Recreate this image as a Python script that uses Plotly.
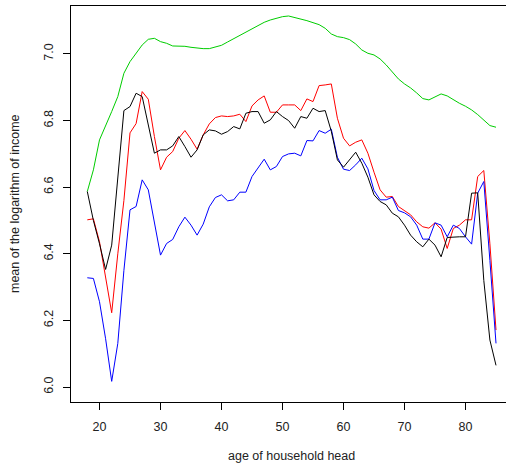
import plotly.graph_objects as go

# Age of household head, 18..85
ages = list(range(18, 86))

# Mean log income by age, four groups
green_vals = [6.587, 6.652, 6.742, 6.782, 6.827, 6.872, 6.942, 6.977, 7.002, 7.027,
              7.044, 7.047, 7.037, 7.032, 7.024, 7.024, 7.023, 7.020, 7.017, 7.016,
              7.016, 7.020, 7.026, 7.036, 7.046, 7.054, 7.066, 7.076, 7.086, 7.095,
              7.102, 7.108, 7.112, 7.114, 7.110, 7.106, 7.100, 7.094, 7.088, 7.077,
              7.060, 7.052, 7.049, 7.043, 7.030, 7.012, 7.002, 6.997, 6.985, 6.967,
              6.945, 6.925, 6.910, 6.898, 6.883, 6.866, 6.862, 6.872, 6.880, 6.874,
              6.862, 6.852, 6.843, 6.832, 6.818, 6.800, 6.785, 6.780]

black_vals = [6.587, 6.500, 6.430, 6.353, 6.426, 6.627, 6.830, 6.842, 6.882, 6.872,
              6.787, 6.702, 6.712, 6.712, 6.724, 6.752, 6.722, 6.690, 6.712, 6.757,
              6.772, 6.769, 6.759, 6.767, 6.782, 6.775, 6.822, 6.827, 6.827, 6.792,
              6.802, 6.827, 6.812, 6.800, 6.777, 6.812, 6.807, 6.837, 6.827, 6.830,
              6.768, 6.682, 6.660, 6.682, 6.705, 6.672, 6.630, 6.577, 6.557, 6.547,
              6.522, 6.511, 6.486, 6.456, 6.436, 6.421, 6.444, 6.426, 6.391, 6.449,
              6.451, 6.451, 6.451, 6.582, 6.583, 6.320, 6.141, 6.065]

red_vals = [6.502, 6.505, 6.436, 6.331, 6.223, 6.400, 6.560, 6.763, 6.791, 6.887,
            6.864, 6.752, 6.652, 6.690, 6.707, 6.747, 6.770, 6.744, 6.714, 6.757,
            6.790, 6.809, 6.814, 6.812, 6.814, 6.819, 6.797, 6.844, 6.862, 6.874,
            6.825, 6.825, 6.847, 6.847, 6.847, 6.830, 6.865, 6.857, 6.905, 6.907,
            6.910, 6.807, 6.747, 6.724, 6.735, 6.742, 6.702, 6.645, 6.592, 6.570,
            6.572, 6.542, 6.530, 6.517, 6.496, 6.481, 6.477, 6.493, 6.474, 6.416,
            6.476, 6.486, 6.502, 6.502, 6.632, 6.650, 6.430, 6.171]

blue_vals = [6.328, 6.326, 6.256, 6.145, 6.017, 6.131, 6.350, 6.532, 6.542, 6.622,
             6.592, 6.496, 6.396, 6.431, 6.443, 6.481, 6.510, 6.486, 6.456, 6.489,
             6.541, 6.569, 6.577, 6.559, 6.562, 6.585, 6.585, 6.632, 6.660, 6.684,
             6.652, 6.662, 6.692, 6.700, 6.702, 6.694, 6.740, 6.739, 6.770, 6.762,
             6.774, 6.690, 6.654, 6.650, 6.667, 6.687, 6.655, 6.590, 6.562, 6.562,
             6.570, 6.530, 6.523, 6.511, 6.486, 6.444, 6.444, 6.493, 6.486, 6.451,
             6.486, 6.476, 6.451, 6.429, 6.582, 6.617, 6.380, 6.131]

x_ticks = [20, 30, 40, 50, 60, 70, 80]
y_ticks = [6.0, 6.2, 6.4, 6.6, 6.8, 7.0]
y_tick_text = ["6.0", "6.2", "6.4", "6.6", "6.8", "7.0"]

FONT = "Liberation Sans, Arial, sans-serif"
TEXT_COL = "#222222"

fig = go.Figure()
for vals, col in [(green_vals, "#00CD00"), (red_vals, "#FF0000"),
                  (blue_vals, "#0000FF"), (black_vals, "#000000")]:
    fig.add_trace(go.Scatter(x=ages, y=vals, mode="lines",
                             line=dict(color=col, width=1), showlegend=False,
                             hoverinfo="skip"))

fig.update_layout(
    width=506, height=468,
    margin=dict(l=71, r=0, t=6, b=66),
    paper_bgcolor="white", plot_bgcolor="white",
    font=dict(family=FONT, size=12.5, color="#000000"),
    xaxis=dict(range=[15.328, 86.64], tickvals=x_ticks, ticks="outside",
               ticklen=7, tickwidth=1, tickcolor="#000000",
               showline=True, mirror=True, linecolor="#000000", linewidth=1,
               showgrid=False, zeroline=False, ticklabelstandoff=6,
               tickfont=dict(size=12.5, color=TEXT_COL)),
    yaxis=dict(range=[5.955, 7.144], tickvals=y_ticks, ticktext=y_tick_text,
               ticks="outside", ticklen=7, tickwidth=1, tickcolor="#000000",
               showline=True, mirror=False, linecolor="#000000", linewidth=1,
               showgrid=False, zeroline=False, tickangle=-90,
               ticklabelstandoff=5, tickfont=dict(size=12.5, color=TEXT_COL)),
    annotations=[
        dict(text="age of household head", xref="paper", yref="paper",
             x=(291.7 - 71) / 435, y=(402 - 456) / 396, showarrow=False,
             xanchor="center", yanchor="middle",
             font=dict(size=12.5, color=TEXT_COL)),
        dict(text="mean of the logarithm of income", xref="paper", yref="paper",
             x=(15 - 71) / 435, y=0.5, showarrow=False, textangle=-90,
             xanchor="center", yanchor="middle",
             font=dict(size=12.5, color=TEXT_COL)),
    ],
)

fig.write_html("out.html")
